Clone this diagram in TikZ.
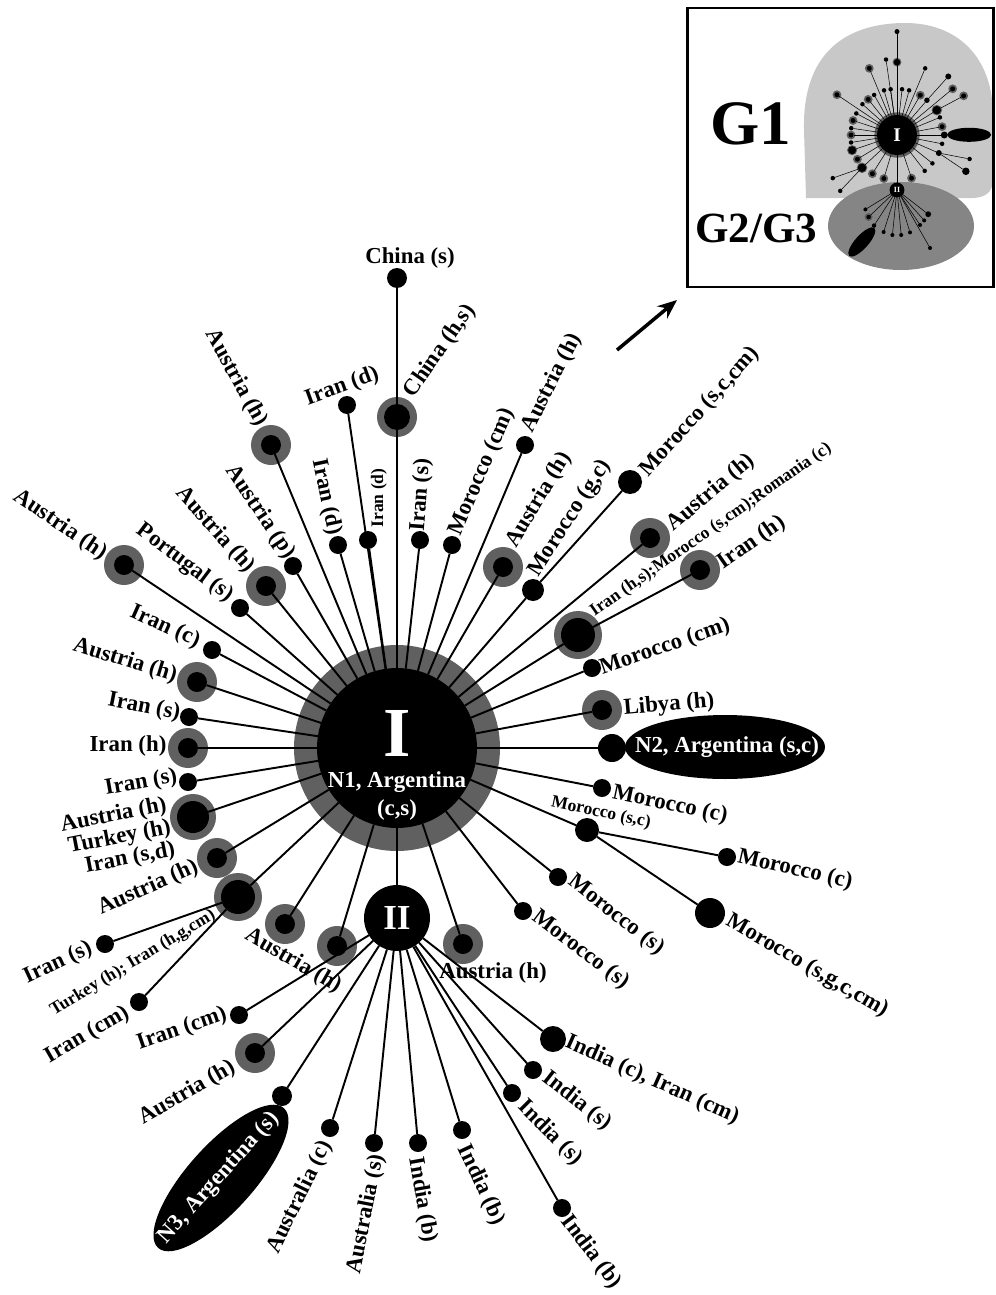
\documentclass[tikz,border=0pt]{standalone}
\usepackage{fontspec}
\setmainfont{Liberation Serif}
\usepackage{tikz}
\usetikzlibrary{shapes.geometric,arrows.meta}
\definecolor{ringgrey}{HTML}{606060}
\definecolor{insetlight}{HTML}{C8C8C8}
\definecolor{insetdark}{HTML}{858585}

\begin{document}
\begin{tikzpicture}[x=0.02cm, y=-0.02cm,
  hap/.style={circle, fill=black, inner sep=0pt, outer sep=0pt},
  link/.style={line width=1.1pt},
  mlink/.style={line width=0.3pt},
  lbl/.style={font=\fontsize{13}{11.5}\selectfont\bfseries, inner sep=0pt, align=right},
  lbls/.style={font=\fontsize{10}{11}\selectfont\bfseries, inner sep=0pt},
  argbox/.style={ellipse, fill=black, inner sep=0pt, outer sep=0pt},
  wtxt/.style={text=white, font=\fontsize{13}{14}\selectfont\bfseries, inner sep=0pt},
]
\useasboundingbox (0,0) rectangle (996,1295);

% haplotypes: name/x/y/black radius/grey radius (pixels)
\def\gonenodes{I/397/748/80/103, chhs/397/417/13/20, chs/397/278/10/0,
  irDa/347/405/9/0, irDb/368/540/9/0, irDc/338/545/9/0, irSt/420/540/9/0,
  moCMt/452/545/9/0, auHt/525/445/9/0, auHr/503/567/10/20, moGC/533/590/11/0,
  moSCC/630/482/12/0, auHr2/650/538/10/20, irHS/578/635/17/24, irHr/700/570/10/20,
  moCMr/592/668/9/0, liH/602/710/10/20, nTwo/612/748/14/0, moCr/602/788/9/0,
  moSC/587/830/12/0, moC2/727/857/9/0, moSGC/710/913/15/0, moSa/558/877/9/0,
  moSb/523/911/9/0, auHb3/463/944/10/20, auHb2/337/946/10/20, auHb1/285/924/10/20,
  tir/238/897/17/24, irSb/105/944/9/0, irCMb/139/1002/9/0, auHl5/217/858/10/20,
  ath/193/817/16/23, irSl2/188/782/9/0, irHl/188/748/10/20, irSl1/189/717/9/0,
  auHl3/197/682/10/20, irCl/212/650/9/0, auHl1/124/565/10/20, ptS/240/608/9/0,
  auHl2/266/586/10/20, auP/293/566/9/0, auHl0/271/445/10/20}
\def\gtwonodes{II/397/918/33/0, irCMc/239/1015/9/0, auHc/255/1053/10/20,
  nThree/282/1096/10/0, ausC/330/1128/9/0, ausS/374/1143/9/0, inBa/418/1143/9/0,
  inBb/462/1130/9/0, inBc/562/1208/9/0, inSa/512/1093/9/0, inSb/533/1070/9/0,
  inCI/553/1039/13/0}
\def\gonelinks{I/chhs, chhs/chs, I/irDa, I/irDb, I/irDc, I/irSt, I/moCMt, I/auHt,
  I/auHr, I/moGC, moGC/moSCC, I/auHr2, I/irHS, irHS/irHr, I/moCMr, I/liH, I/nTwo,
  I/moCr, I/moSC, moSC/moC2, moSC/moSGC, I/moSa, I/moSb, I/auHb3, I/auHb2,
  I/auHb1, I/tir, tir/irSb, tir/irCMb, I/auHl5, I/ath, I/irSl2, I/irHl, I/irSl1,
  I/auHl3, I/irCl, I/auHl1, I/ptS, I/auHl2, I/auP, I/auHl0, I/II}
\def\gtwolinks{II/irCMc, II/auHc, II/nThree, II/ausC, II/ausS, II/inBa, II/inBb,
  II/inBc, II/inSa, II/inSb, II/inCI}

% inset
\fill[insetlight] (806,198) -- (804,130) .. controls (802,45) and (855,23) .. (905,23)
  .. controls (960,23) and (993,60) .. (993,115) -- (993,180)
  .. controls (993,192) and (985,198) .. (972,198) -- cycle;
\fill[insetdark] (901,226) ellipse [x radius=73, y radius=44];
\begin{scope}[shift={(897,135)}, scale=0.22, shift={(-397,-748)}]
  \foreach \n/\x/\y/\rb/\rg in \gonenodes {\ifnum\rg>0 \fill[ringgrey] (\x,\y) circle (\rg);\fi}
  \foreach \n/\x/\y/\rb/\rg in \gonenodes {\node[hap, minimum size={\rb*0.01cm}] (m\n) at (\x,\y) {};}
  \node[argbox, minimum width={200*0.0044cm}, minimum height={64*0.0044cm}] (mNTwoBox) at (725,747) {};
\end{scope}
\begin{scope}[shift={(897,190)}, scale=0.2, shift={(-397,-918)}]
  \foreach \n/\x/\y/\rb/\rg in \gtwonodes {\ifnum\rg>0 \fill[ringgrey] (\x,\y) circle (\rg);\fi}
  \foreach \n/\x/\y/\rb/\rg in \gtwonodes {\node[hap, minimum size={\rb*0.009cm}] (m\n) at (\x,\y) {};}
  \node[argbox, rotate=48, minimum width={188*0.004cm}, minimum height={66*0.004cm}] (mNThreeBox) at (221,1178) {};
\end{scope}
\foreach \a/\b in \gonelinks {\draw[mlink] (m\a) -- (m\b);}
\foreach \a/\b in \gtwolinks {\draw[mlink] (m\a) -- (m\b);}
\node[text=white, font=\fontsize{11}{11}\selectfont\bfseries, inner sep=0pt] (mTtlI) at (mI) {I};
\node[text=white, font=\fontsize{4.5}{5}\selectfont\bfseries, inner sep=0pt] (mTtlII) at (mII) {II};
\node[font=\fontsize{36}{36}\selectfont\bfseries, inner sep=0pt] (gOne) at (751,124) {G1};
\node[font=\fontsize{24.5}{25}\selectfont\bfseries, inner sep=0pt] (gTwo) at (756,228) {G2/G3};
\draw[line width=1.7pt] (687,8) rectangle (993,287);
\coordinate (arrFrom) at (617,350);
\coordinate (arrTo) at (677,300);
\draw[line width=2pt, -{Stealth[length=11pt, width=9pt]}] (arrFrom) -- (arrTo);

% main network
\foreach \n/\x/\y/\rb/\rg in \gonenodes {\ifnum\rg>0 \fill[ringgrey] (\x,\y) circle (\rg);\fi}
\foreach \n/\x/\y/\rb/\rg in \gtwonodes {\ifnum\rg>0 \fill[ringgrey] (\x,\y) circle (\rg);\fi}
\foreach \n/\x/\y/\rb/\rg in \gonenodes {\node[hap, minimum size={\rb*0.04cm}] (\n) at (\x,\y) {};}
\foreach \n/\x/\y/\rb/\rg in \gtwonodes {\node[hap, minimum size={\rb*0.04cm}] (\n) at (\x,\y) {};}
\foreach \a/\b in \gonelinks {\draw[link] (\a) -- (\b);}
\foreach \a/\b in \gtwolinks {\draw[link] (\a) -- (\b);}
\node[argbox, minimum width=4cm, minimum height=1.28cm] (nTwoBox) at (725,747) {};
\node[wtxt] (nTwoTxt) at (727,747) {N2, Argentina (s,c)};
\node[argbox, rotate=48, minimum width={188*0.02cm}, minimum height={66*0.02cm}] (nThreeBox) at (221,1178) {};
\node[wtxt, rotate=48] (nThreeTxt) at (219,1178) {N3, Argentina (s)};
\node[text=white, font=\fontsize{40}{40}\selectfont\bfseries, inner sep=0pt] (ttlI) at (397,733) {I};
\node[wtxt] (ttlIa) at (397,782) {N1, Argentina};
\node[wtxt] (ttlIb) at (397,810) {(c,s)};
\node[text=white, font=\fontsize{20}{20}\selectfont\bfseries, inner sep=0pt] (ttlII) at (397,918) {II};

% labels: x/y/rotation/text
\foreach \x/\y/\a/\t [count=\i] in {410/258/0/{China (s)}, 440/351/55/{China (h,s)},
  342/387/20/{Iran (d)}, 326/497/-78/{Iran (d)}, 421/495/86/{Iran (s)},
  482/472/67/{Morocco (cm)}, 552/383/63/{Austria (h)}, 539/500/59/{Austria (h)},
  570/518/57/{Morocco (g,c)}, 700/412/48/{Morocco (s,c,cm)}, 711/493/40/{Austria (h)},
  752/543/35/{Iran (h)}, 665/647/19/{Morocco (cm)}, 669/705/5/{Libya (h)},
  670/805/-12/{Morocco (c)}, 795/870/-13/{Morocco (c)}, 807/966/-30/{Morocco (s,g,c,cm)},
  616/915/-38/{Morocco (s)}, 581/950/-37/{Morocco (s)}, 493/973/0/{Austria (h)},
  293/961/-30/{Austria (h)}, 58/963/25/{Iran (s)}, 87/1035/30/{Iran (cm)},
  148/888/24/{Austria (h)}, 141/783/10/{Iran (s)}, 128/746/0/{Iran (h)},
  144/707/-11/{Iran (s)}, 125/661/-17/{Austria (h)}, 165/627/-24/{Iran (c)},
  60/525/-34/{Austria (h)}, 185/563/-37/{Portugal (s)}, 215/530/-48/{Austria (h)},
  260/512/-56/{Austria (p)}, 236/378/-61/{Austria (h)}, 182/1029/19/{Iran (cm)},
  187/1093/30/{Austria (h)}, 300/1197/64/{Australia (c)}, 366/1214/79/{Australia (s)},
  422/1200/-80/{India (b)}, 481/1185/-65/{India (b)}, 591/1252/-53/{India (b)},
  550/1133/-45/{India (s)}, 577/1101/-38/{India (s)}, 652/1080/-24/{India (c), Iran (cm)}}
  {\node[lbl, rotate=\a] (lab\i) at (\x,\y) {\t};}
\node[lbl, rotate=11] (labAth) at (118,838) {Austria (h)\\Turkey (h)\\Iran (s,d)};
\foreach \x/\y/\a/\t [count=\i] in {379/498/90/{Iran (d)},
  711/530/35/{Iran (h,s);Morocco (s,cm);Romania (c)}, 601/813/-12/{Morocco (s,c)},
  133/963/31/{Turkey (h); Iran (h,g,cm)}}
  {\node[lbls, rotate=\a] (labs\i) at (\x,\y) {\t};}
\end{tikzpicture}
\end{document}
